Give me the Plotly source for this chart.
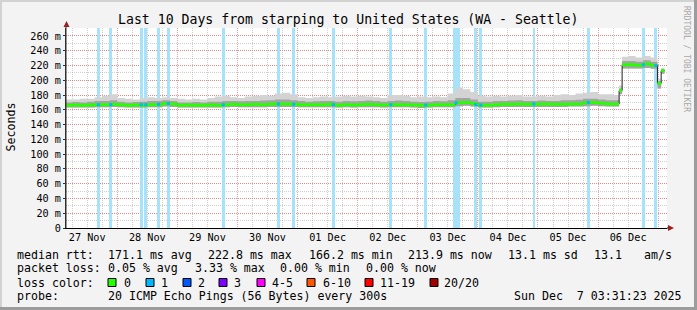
import plotly.graph_objects as go
import pandas as pd

# ---------------- data ----------------
BASE = pd.Timestamp("2025-11-27 00:00:00")
START = pd.Timestamp("2025-11-27 03:31:23")
END = pd.Timestamp("2025-12-07 03:31:23")

# hours since 27 Nov 00:00
hours = [3, 6, 9, 12, 15, 18, 21, 24, 27, 30, 33, 36, 39, 42, 45, 48, 51, 54, 57, 60,
         63, 66, 69, 72, 75, 78, 81, 84, 87, 90, 93, 96, 99, 102, 105, 108, 111, 114, 117, 120,
         123, 126, 129, 132, 135, 138, 141, 144, 147, 150, 153, 156, 159, 162, 165, 168, 171, 174, 177, 180,
         183, 186, 189, 192, 195, 198, 201, 204, 207, 210, 213, 216, 219, 222, 224.4, 225.6, 228, 231, 234, 237,
         239.7, 241.2, 242.5]

median_ms = [166.3, 166.5, 166.3, 166.5, 167.0, 167.0, 167.5, 167.0, 166.3, 166.5, 166.3, 167.0, 167.0, 168.5, 168.0, 166.3, 166.5, 166.3, 166.3, 166.5,
             166.3, 167.0, 167.5, 167.0, 167.0, 167.5, 167.0, 168.0, 168.0, 168.0, 167.5, 167.0, 167.0, 167.0, 167.0, 167.5, 166.3, 167.0, 166.5, 167.0,
             167.5, 167.0, 166.5, 167.0, 167.0, 167.0, 166.5, 166.2, 166.3, 167.0, 167.0, 167.0, 169.5, 170.0, 168.5, 166.3, 166.3, 167.0, 167.5, 167.5,
             168.0, 167.5, 167.5, 168.0, 168.0, 167.5, 167.5, 168.0, 168.0, 169.5, 170.0, 169.0, 168.0, 168.0, 186.0, 221.0, 221.0, 220.5, 222.0, 220.5,
             196.0, 213.0, 213.0]

smoke_min = [163.0, 163.2, 163.0, 163.0, 163.5, 163.5, 164.0, 163.5, 163.0, 163.0, 163.0, 163.5, 163.5, 164.5, 164.0, 163.0, 163.0, 163.0, 163.0, 163.0,
             163.0, 163.5, 164.0, 163.5, 163.5, 163.5, 163.5, 164.0, 164.0, 164.0, 164.0, 163.5, 163.5, 163.5, 163.5, 163.5, 163.0, 163.5, 163.0, 163.5,
             163.5, 163.5, 163.0, 163.5, 163.5, 163.5, 163.0, 162.5, 163.0, 163.5, 163.5, 163.5, 165.0, 165.5, 164.5, 163.0, 163.0, 163.5, 164.0, 164.0,
             164.0, 164.0, 164.0, 164.0, 164.0, 164.0, 164.0, 164.5, 164.5, 165.0, 165.5, 165.0, 164.5, 164.5, 181.0, 216.0, 216.0, 216.0, 216.5, 215.5,
             189.0, 209.0, 209.0]

smoke_mid = [170.0, 170.5, 170.0, 171.0, 172.0, 172.0, 173.0, 171.0, 170.0, 170.5, 171.0, 172.0, 172.0, 173.0, 172.0, 170.0, 170.0, 170.5, 170.0, 171.0,
             171.0, 172.0, 172.0, 171.5, 172.0, 172.0, 172.5, 173.0, 174.0, 174.0, 173.0, 172.0, 171.0, 171.5, 172.0, 172.0, 171.0, 172.0, 171.5, 172.0,
             172.5, 172.0, 171.0, 172.0, 172.5, 172.0, 171.0, 170.5, 171.0, 172.0, 171.5, 173.0, 176.0, 176.0, 174.0, 171.0, 171.0, 172.0, 172.0, 172.5,
             173.0, 172.0, 172.0, 172.5, 172.0, 172.0, 173.0, 173.0, 173.5, 175.0, 175.0, 174.0, 173.0, 173.0, 189.0, 226.0, 226.0, 225.0, 227.0, 225.0,
             199.0, 215.0, 215.0]

smoke_max = [174.0, 174.0, 175.0, 175.0, 177.0, 179.0, 181.0, 176.0, 175.0, 174.0, 176.0, 177.0, 176.0, 177.0, 176.0, 175.0, 174.0, 175.0, 174.0, 176.0,
             178.0, 179.0, 177.0, 176.0, 178.0, 179.0, 180.0, 179.0, 182.0, 183.0, 181.0, 177.0, 176.0, 177.0, 178.0, 177.0, 178.0, 179.0, 178.0, 179.0,
             178.0, 177.0, 176.0, 180.0, 180.0, 179.0, 177.0, 178.0, 177.0, 178.0, 177.0, 182.0, 190.0, 188.0, 184.0, 179.0, 178.0, 179.0, 178.0, 179.0,
             180.0, 178.0, 178.0, 179.0, 178.0, 180.0, 181.0, 180.0, 182.0, 183.0, 184.0, 181.0, 181.0, 180.0, 193.0, 232.0, 233.0, 231.0, 233.0, 231.0,
             202.0, 217.0, 217.0]

# loss events (hours since 27 Nov 00:00, duration in hours, median rtt at that time)
loss_hours = [16.46, 21.41, 33.55, 35.39, 40.46, 44.37, 66.34, 88.30, 94.45, 110.27,
              133.23, 147.21, 159.27, 167.14, 169.17, 190.34, 212.11, 234.07, 239.02]
loss_dur = [1.0, 1.1, 1.3, 1.1, 0.9, 1.0, 1.0, 1.0, 1.0, 1.0,
            1.1, 1.1, 2.8, 1.0, 1.1, 0.9, 1.0, 1.0, 1.0]
loss_rtt = [167.0, 167.0, 167.0, 167.0, 167.5, 168.5, 167.0, 168.0, 167.5, 167.0,
            167.0, 166.5, 169.5, 167.0, 166.5, 168.0, 170.0, 221.0, 220.0]

y_ticks = [0, 20, 40, 60, 80, 100, 120, 140, 160, 180, 200, 220, 240, 260]
y_labels = ["0", "20 m", "40 m", "60 m", "80 m", "100 m", "120 m", "140 m", "160 m",
            "180 m", "200 m", "220 m", "240 m", "260 m"]

legend_names = ["0", "1", "2", "3", "4-5", "6-10", "11-19", "20/20"]
legend_colors = ["#26ff00", "#00b8ff", "#0059ff", "#7e00ff", "#ff00ff", "#ff5500", "#ff0000", "#a10000"]

# ---------------- styling ----------------
MONO = "DejaVu Sans Mono"
W, H = 697, 310
L, R, T, B = 66, 667, 28, 228
Y_TOP = 270.8
SW = 2.0  # half thickness of coloured median band (ms)

def px(x):
    return (x - L) / (R - L)

def py(y):
    return (B - y) / (B - T)

times = [BASE + pd.Timedelta(hours=h) for h in hours]
loss_times = [BASE + pd.Timedelta(hours=h) for h in loss_hours]

fig = go.Figure()

# loss background bars
fig.add_trace(go.Bar(
    x=loss_times, y=[Y_TOP] * len(loss_times),
    width=[d * 3600 * 1000 for d in loss_dur],
    marker=dict(color="rgb(166,227,251)", line=dict(width=0)), opacity=1,
    hoverinfo="skip", showlegend=False))

# smoke outer band
fig.add_trace(go.Scatter(x=times, y=smoke_min, mode="lines", line=dict(width=0, shape="hv"),
                         showlegend=False, hoverinfo="skip"))
fig.add_trace(go.Scatter(x=times, y=smoke_max, mode="lines", line=dict(width=0, shape="hv"),
                         fill="tonexty", fillcolor="#d3d3d3", showlegend=False, hoverinfo="skip"))
# smoke inner band
fig.add_trace(go.Scatter(x=times, y=smoke_min, mode="lines", line=dict(width=0, shape="hv"),
                         showlegend=False, hoverinfo="skip"))
fig.add_trace(go.Scatter(x=times, y=smoke_mid, mode="lines", line=dict(width=0, shape="hv"),
                         fill="tonexty", fillcolor="#a4a4a4", showlegend=False, hoverinfo="skip"))
# median thin dark line
fig.add_trace(go.Scatter(x=times, y=median_ms, mode="lines", line=dict(width=1, color="#202020", shape="hv"),
                         showlegend=False, hoverinfo="skip"))
# coloured median band (loss 0)
fig.add_trace(go.Scatter(x=times, y=[m - SW for m in median_ms], mode="lines",
                         line=dict(width=0, shape="hv"), showlegend=False, hoverinfo="skip"))
fig.add_trace(go.Scatter(x=times, y=[m + SW for m in median_ms], mode="lines",
                         line=dict(width=0, shape="hv"), fill="tonexty", fillcolor="#26ff00",
                         showlegend=False, hoverinfo="skip"))
# loss 1 coloured median pieces
fig.add_trace(go.Scatter(x=loss_times, y=loss_rtt, mode="markers",
                         marker=dict(symbol="square", size=3, color="#00b8ff", line=dict(width=0)),
                         showlegend=False, hoverinfo="skip"))

grid_major = "rgba(230,80,80,0.55)"
grid_minor = "rgba(150,150,150,0.45)"

fig.update_xaxes(
    type="date", range=[START, END], tick0=BASE, dtick=86400000,
    tickformat="%d %b", ticklabelmode="period",
    showgrid=True, gridcolor=grid_major, griddash="1px,1px", gridwidth=1,
    minor=dict(dtick=21600000, tick0=BASE, showgrid=True, gridcolor=grid_minor,
               griddash="1px,1px", gridwidth=1),
    showline=True, linecolor="#000000", linewidth=1, zeroline=False,
    ticks="", tickfont=dict(family=MONO, size=10.2, color="#000"),
    fixedrange=True)

fig.update_yaxes(
    range=[0, Y_TOP], tickvals=y_ticks, ticktext=y_labels,
    showgrid=True, gridcolor=grid_major, griddash="1px,1px", gridwidth=1,
    minor=dict(dtick=10, tick0=0, showgrid=True, gridcolor=grid_minor,
               griddash="1px,1px", gridwidth=1),
    showline=True, linecolor="#303030", linewidth=1, zeroline=False,
    ticks="outside", ticklen=2, tickcolor="#303030",
    tickfont=dict(family=MONO, size=10.2, color="#000"),
    fixedrange=True)

shapes = []
# axis extension + arrows
shapes.append(dict(type="line", xref="paper", yref="paper", x0=px(L), x1=px(L), y0=py(B), y1=py(25),
                   line=dict(color="#303030", width=1)))
shapes.append(dict(type="line", xref="paper", yref="paper", x0=px(R), x1=px(669), y0=py(B), y1=py(B),
                   line=dict(color="#000000", width=1)))
shapes.append(dict(type="path", xref="paper", yref="paper",
                   path=f"M {px(63.5)},{py(27)} L {px(66.5)},{py(21)} L {px(69.5)},{py(27)} Z",
                   fillcolor="#9a1f1f", line=dict(width=0)))
shapes.append(dict(type="path", xref="paper", yref="paper",
                   path=f"M {px(668)},{py(225)} L {px(674)},{py(228)} L {px(668)},{py(231)} Z",
                   fillcolor="#9a1f1f", line=dict(width=0)))
# frame
shapes.append(dict(type="rect", xref="paper", yref="paper", x0=px(0), x1=px(W), y0=py(0), y1=py(2),
                   fillcolor="#d2d2d2", line=dict(width=0), layer="below"))
shapes.append(dict(type="rect", xref="paper", yref="paper", x0=px(0), x1=px(2), y0=py(0), y1=py(H),
                   fillcolor="#d2d2d2", line=dict(width=0), layer="below"))
shapes.append(dict(type="rect", xref="paper", yref="paper", x0=px(W - 3), x1=px(W), y0=py(0), y1=py(H),
                   fillcolor="#9c9c9c", line=dict(width=0), layer="below"))
shapes.append(dict(type="rect", xref="paper", yref="paper", x0=px(0), x1=px(W), y0=py(H - 3), y1=py(H),
                   fillcolor="#9c9c9c", line=dict(width=0), layer="below"))

# legend swatches
box_x = [108, 146, 183, 219, 257, 307, 365, 430]
lbl_x = [123, 160, 197, 233, 271, 322, 379, 443]
for bx, c in zip(box_x, legend_colors):
    shapes.append(dict(type="rect", xref="paper", yref="paper",
                       x0=px(bx), x1=px(bx + 8), y0=py(278.5), y1=py(286.5),
                       fillcolor=c, line=dict(color="#000000", width=1)))

def ann(text, x, y, size=11.6, color="#000000", xanchor="left", angle=0):
    return dict(text=text.replace(" ", "\u00a0"), x=px(x), y=py(y), xref="paper", yref="paper",
                showarrow=False, xanchor=xanchor, yanchor="middle", textangle=angle,
                borderpad=0, font=dict(family=MONO, size=size, color=color))

anns = []
anns.append(ann("Last 10 Days from starping to United States (WA - Seattle)", 348, 19, size=13.2, xanchor="center"))
anns.append(ann("Seconds", 10.5, 127, size=11.6, xanchor="center", angle=-90))
anns.append(ann("RRDTOOL / TOBI OETIKER", 687, 59, size=8, color="#a8a8a8", xanchor="center", angle=90))

y1, y2, y3, y4 = 254.5, 268, 282.5, 296
line1 = [("median rtt:", 16), ("171.1 ms avg", 107), ("222.8 ms max", 207), ("166.2 ms min", 308),
         ("213.9 ms now", 407), ("13.1 ms sd", 507), ("13.1", 593), ("am/s", 643)]
line2 = [("packet loss:", 16), ("0.05 % avg", 107), ("3.33 % max", 194), ("0.00 % min", 279),
         ("0.00 % now", 365)]
line4 = [("probe:", 16), ("20 ICMP Echo Pings (56 Bytes) every 300s", 107),
         ("Sun Dec  7 03:31:23 2025", 513)]
for t, x in line1:
    anns.append(ann(t, x, y1))
for t, x in line2:
    anns.append(ann(t, x, y2))
anns.append(ann("loss color:", 16, y3))
for t, x in zip(legend_names, lbl_x):
    anns.append(ann(t, x, y3))
for t, x in line4:
    anns.append(ann(t, x, y4))

fig.update_layout(
    width=W, height=H, autosize=False,
    margin=dict(l=L, r=W - R, t=T, b=H - B, pad=0),
    paper_bgcolor="#f3f3f3", plot_bgcolor="#ffffff",
    barmode="overlay", bargap=0,
    showlegend=False, shapes=shapes, annotations=anns,
)

fig.write_html("out.html", config={"displayModeBar": False})
